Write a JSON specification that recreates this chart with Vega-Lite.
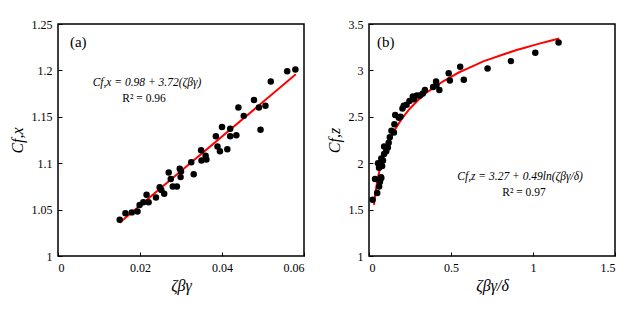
{
  "$schema": "https://vega.github.io/schema/vega-lite/v6.json",
  "padding": {"left": 8, "top": 17, "right": 5, "bottom": 5},
  "background": "white",
  "spacing": 65,
  "bounds": "flush",
  "config": {
    "font": "Liberation Serif",
    "view": {"stroke": "black", "strokeWidth": 1.5},
    "axis": {
      "grid": false, "domain": false, "ticks": true, "tickSize": -4, "tickColor": "black", "tickWidth": 1,
      "labelFont": "Liberation Serif", "labelFontSize": 12, "labelColor": "black", "labelPadding": 10,
      "titleFont": "Liberation Serif", "titleFontSize": 16, "titleFontStyle": "italic", "titleFontWeight": "normal", "titleColor": "black",
      "format": "~g"
    },
    "axisX": {"titlePadding": 4},
    "axisY": {"titlePadding": 6},
    "text": {"font": "Liberation Serif"}
  },
  "datasets": {
    "one": [{}],
    "pa": [
      {"x": 0.01505, "y": 1.039}, {"x": 0.01645, "y": 1.046}, {"x": 0.0180, "y": 1.047}, {"x": 0.0194, "y": 1.048},
      {"x": 0.0199, "y": 1.055}, {"x": 0.0208, "y": 1.058}, {"x": 0.0216, "y": 1.066}, {"x": 0.0221, "y": 1.058},
      {"x": 0.0239, "y": 1.063}, {"x": 0.0248, "y": 1.074}, {"x": 0.0252, "y": 1.071}, {"x": 0.0259, "y": 1.067},
      {"x": 0.0270, "y": 1.090}, {"x": 0.0275, "y": 1.083}, {"x": 0.0280, "y": 1.075}, {"x": 0.0290, "y": 1.075},
      {"x": 0.0297, "y": 1.094}, {"x": 0.0299, "y": 1.085}, {"x": 0.0300, "y": 1.091}, {"x": 0.0325, "y": 1.101},
      {"x": 0.0331, "y": 1.088}, {"x": 0.0349, "y": 1.114}, {"x": 0.0350, "y": 1.103}, {"x": 0.0360, "y": 1.108},
      {"x": 0.0362, "y": 1.104}, {"x": 0.0385, "y": 1.129}, {"x": 0.0389, "y": 1.118}, {"x": 0.0395, "y": 1.113},
      {"x": 0.0400, "y": 1.139}, {"x": 0.0413, "y": 1.115}, {"x": 0.0420, "y": 1.137}, {"x": 0.0420, "y": 1.129},
      {"x": 0.0435, "y": 1.130}, {"x": 0.0440, "y": 1.160}, {"x": 0.0453, "y": 1.151}, {"x": 0.0478, "y": 1.168},
      {"x": 0.0490, "y": 1.160}, {"x": 0.0494, "y": 1.136}, {"x": 0.0506, "y": 1.162}, {"x": 0.0519, "y": 1.188},
      {"x": 0.0559, "y": 1.199}, {"x": 0.0579, "y": 1.201}
    ],
    "fa": [
      {"x": 0.015, "y": 1.0358}, {"x": 0.058, "y": 1.1958}
    ],
    "pb": [
      {"x": 0.022, "y": 1.606}, {"x": 0.037, "y": 1.829}, {"x": 0.050, "y": 1.678}, {"x": 0.055, "y": 2.0},
      {"x": 0.062, "y": 1.75}, {"x": 0.067, "y": 1.80}, {"x": 0.073, "y": 1.85}, {"x": 0.075, "y": 1.84},
      {"x": 0.061, "y": 1.95}, {"x": 0.075, "y": 2.05}, {"x": 0.080, "y": 1.97}, {"x": 0.085, "y": 2.03},
      {"x": 0.092, "y": 2.10}, {"x": 0.092, "y": 2.18}, {"x": 0.105, "y": 2.13}, {"x": 0.115, "y": 2.17},
      {"x": 0.120, "y": 2.22}, {"x": 0.127, "y": 2.28}, {"x": 0.137, "y": 2.35}, {"x": 0.152, "y": 2.33},
      {"x": 0.155, "y": 2.42}, {"x": 0.160, "y": 2.52}, {"x": 0.182, "y": 2.49}, {"x": 0.192, "y": 2.50},
      {"x": 0.204, "y": 2.59}, {"x": 0.212, "y": 2.62}, {"x": 0.229, "y": 2.63}, {"x": 0.247, "y": 2.67},
      {"x": 0.267, "y": 2.72}, {"x": 0.274, "y": 2.69}, {"x": 0.292, "y": 2.73}, {"x": 0.311, "y": 2.73},
      {"x": 0.328, "y": 2.75}, {"x": 0.341, "y": 2.79}, {"x": 0.391, "y": 2.82}, {"x": 0.409, "y": 2.88},
      {"x": 0.411, "y": 2.84}, {"x": 0.429, "y": 2.79}, {"x": 0.486, "y": 2.97}, {"x": 0.493, "y": 2.89},
      {"x": 0.556, "y": 3.04}, {"x": 0.578, "y": 2.90}, {"x": 0.723, "y": 3.02}, {"x": 0.865, "y": 3.10},
      {"x": 1.014, "y": 3.19}, {"x": 1.156, "y": 3.30}
    ],
    "fb": [
      {"x": 0.03, "y": 1.55}, {"x": 0.04, "y": 1.69}, {"x": 0.05, "y": 1.80}, {"x": 0.06, "y": 1.89},
      {"x": 0.07, "y": 1.97}, {"x": 0.085, "y": 2.06}, {"x": 0.1, "y": 2.14}, {"x": 0.125, "y": 2.25},
      {"x": 0.15, "y": 2.34}, {"x": 0.2, "y": 2.48}, {"x": 0.25, "y": 2.59}, {"x": 0.3, "y": 2.68},
      {"x": 0.35, "y": 2.76}, {"x": 0.4, "y": 2.82}, {"x": 0.45, "y": 2.88}, {"x": 0.5, "y": 2.93},
      {"x": 0.55, "y": 2.98}, {"x": 0.6, "y": 3.02}, {"x": 0.65, "y": 3.06}, {"x": 0.7, "y": 3.10},
      {"x": 0.75, "y": 3.13}, {"x": 0.8, "y": 3.16}, {"x": 0.85, "y": 3.19}, {"x": 0.9, "y": 3.22},
      {"x": 0.95, "y": 3.245}, {"x": 1.0, "y": 3.27}, {"x": 1.05, "y": 3.294}, {"x": 1.1, "y": 3.317},
      {"x": 1.16, "y": 3.343}
    ]
  },
  "hconcat": [
    {
      "width": 246,
      "height": 232,
      "layer": [
        {
          "data": {"name": "fa"},
          "mark": {"type": "line", "color": "#ff0000", "strokeWidth": 2},
          "encoding": {
            "x": {"field": "x", "type": "quantitative", "scale": {"domain": [0, 0.06], "nice": false}, "axis": {"values": [0, 0.02, 0.04, 0.06], "title": "ζβγ"}},
            "y": {"field": "y", "type": "quantitative", "scale": {"domain": [1, 1.25], "nice": false, "zero": false}, "axis": {"values": [1, 1.05, 1.1, 1.15, 1.2, 1.25], "title": "Cf,x"}}
          }
        },
        {
          "data": {"name": "pa"},
          "mark": {"type": "point", "filled": true, "color": "black", "opacity": 1, "size": 42},
          "encoding": {
            "x": {"field": "x", "type": "quantitative"},
            "y": {"field": "y", "type": "quantitative"}
          }
        },
        {
          "data": {"name": "one"},
          "mark": {"type": "text", "align": "left", "baseline": "middle", "fontSize": 15, "color": "black"},
          "encoding": {"x": {"datum": 0.0029}, "y": {"datum": 1.2306}, "text": {"value": "(a)"}}
        },
        {
          "data": {"name": "one"},
          "mark": {"type": "text", "align": "center", "baseline": "middle", "fontSize": 11.5, "color": "black", "fontStyle": "italic"},
          "encoding": {"x": {"datum": 0.0217}, "y": {"datum": 1.1864}, "text": {"value": "Cf,x = 0.98 + 3.72(ζβγ)"}}
        },
        {
          "data": {"name": "one"},
          "mark": {"type": "text", "align": "center", "baseline": "middle", "fontSize": 11.5, "color": "black"},
          "encoding": {"x": {"datum": 0.021}, "y": {"datum": 1.169}, "text": {"value": "R² = 0.96"}}
        }
      ]
    },
    {
      "width": 246,
      "height": 232,
      "layer": [
        {
          "data": {"name": "fb"},
          "mark": {"type": "line", "color": "#ff0000", "strokeWidth": 2},
          "encoding": {
            "x": {"field": "x", "type": "quantitative", "scale": {"domain": [0, 1.5], "nice": false}, "axis": {"values": [0, 0.5, 1, 1.5], "title": "ζβγ/δ"}},
            "y": {"field": "y", "type": "quantitative", "scale": {"domain": [1, 3.5], "nice": false, "zero": false}, "axis": {"values": [1, 1.5, 2, 2.5, 3, 3.5], "title": "Cf,z"}}
          }
        },
        {
          "data": {"name": "pb"},
          "mark": {"type": "point", "filled": true, "color": "black", "opacity": 1, "size": 42},
          "encoding": {
            "x": {"field": "x", "type": "quantitative"},
            "y": {"field": "y", "type": "quantitative"}
          }
        },
        {
          "data": {"name": "one"},
          "mark": {"type": "text", "align": "left", "baseline": "middle", "fontSize": 15, "color": "black"},
          "encoding": {"x": {"datum": 0.049}, "y": {"datum": 3.306}, "text": {"value": "(b)"}}
        },
        {
          "data": {"name": "one"},
          "mark": {"type": "text", "align": "center", "baseline": "middle", "fontSize": 11.5, "color": "black", "fontStyle": "italic"},
          "encoding": {"x": {"datum": 0.921}, "y": {"datum": 1.851}, "text": {"value": "Cf,z = 3.27 + 0.49ln(ζβγ/δ)"}}
        },
        {
          "data": {"name": "one"},
          "mark": {"type": "text", "align": "center", "baseline": "middle", "fontSize": 11.5, "color": "black"},
          "encoding": {"x": {"datum": 0.945}, "y": {"datum": 1.679}, "text": {"value": "R² = 0.97"}}
        }
      ]
    }
  ]
}
